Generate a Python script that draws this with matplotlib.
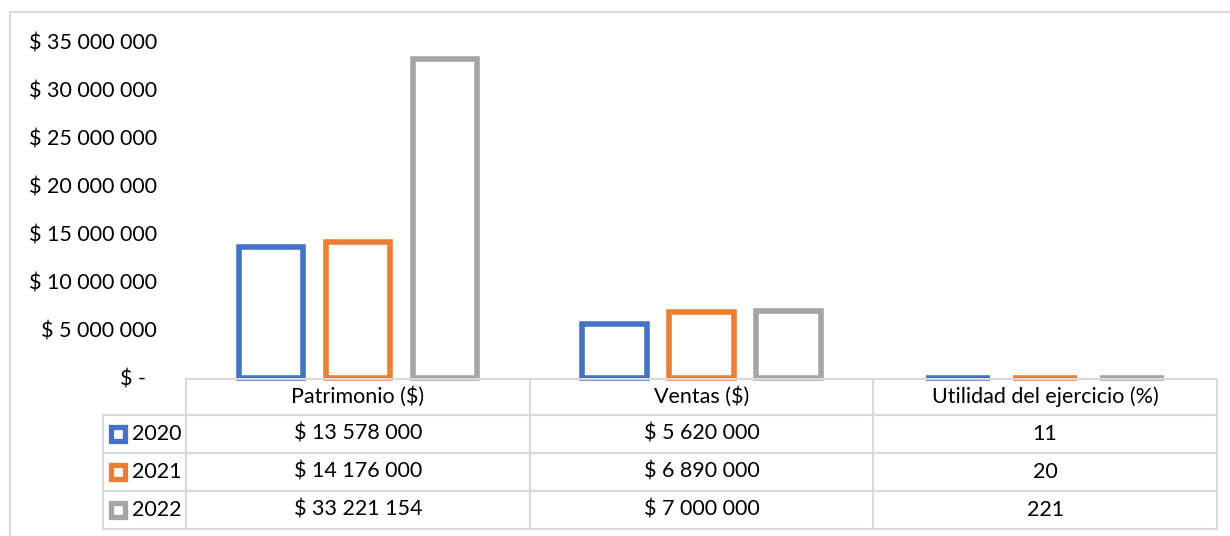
import matplotlib
matplotlib.use("Agg")
import matplotlib.pyplot as plt
import matplotlib.transforms as mtransforms
from matplotlib.lines import Line2D
from matplotlib.patches import Rectangle
import numpy as np

plt.rcParams['font.family'] = ['Lato', 'DejaVu Sans']

# data
categorias = ["Patrimonio ($)", "Ventas ($)", "Utilidad del ejercicio (%)"]
anios = ["2020", "2021", "2022"]
v2020 = [13578000, 5620000, 11]
v2021 = [14176000, 6890000, 20]
v2022 = [33221154, 7000000, 221]
tabla_2020 = ["$ 13 578 000", "$ 5 620 000", "11"]
tabla_2021 = ["$ 14 176 000", "$ 6 890 000", "20"]
tabla_2022 = ["$ 33 221 154", "$ 7 000 000", "221"]
colores = ["#4472C4", "#ED7D31", "#A5A5A5"]
grid_col = "#D9D9D9"

W, H = 1230, 536
fs = 15.5
fig = plt.figure(figsize=(W / 100, H / 100), dpi=100)

def fx(px):
    return px / W

def fy(py):
    return 1 - py / H

# plot area (pixel positions)
left, right, top, base = 186, 1217, 41.5, 378
ax = fig.add_axes([fx(left), fy(base), fx(right - left), (base - top) / H])

x = np.arange(len(categorias))
series = [v2020, v2021, v2022]
off = 0.253
bw = 0.1875
for i, (vals, c) in enumerate(zip(series, colores)):
    ax.bar(x + (i - 1) * off, vals, width=bw, facecolor="white", edgecolor=c,
           linewidth=4.0, joinstyle="miter", clip_on=False, zorder=3)

ax.set_xlim(-0.5, 2.5)
ax.set_ylim(0, 35000000)
ticks = np.arange(0, 35000001, 5000000)
ax.set_yticks(ticks)

def fmt(v):
    if v == 0:
        return "$ -  "
    return "$ " + f"{v:,.0f}".replace(",", " ")

ax.set_yticklabels([fmt(t) for t in ticks], fontsize=fs)
ax.tick_params(axis="y", length=0, pad=21)
ax.set_xticks([])
for s in ax.spines.values():
    s.set_visible(False)

# data table under the chart
tr = mtransforms.blended_transform_factory(ax.transData, fig.transFigure)
rows = [379, 415, 453, 491, 529]
lw = 1.5

fig.add_artist(Line2D([fx(186), fx(1217)], [fy(379), fy(379)], color=grid_col, lw=lw))
for r in rows[1:]:
    fig.add_artist(Line2D([fx(103), fx(1217)], [fy(r), fy(r)], color=grid_col, lw=lw))
fig.add_artist(Line2D([fx(103), fx(103)], [fy(415), fy(529)], color=grid_col, lw=lw))
for b in [-0.5, 0.5, 1.5, 2.5]:
    fig.add_artist(Line2D([b, b], [fy(379), fy(529)], color=grid_col, lw=lw, transform=tr))

for j, cat in enumerate(categorias):
    fig.text(j, fy((rows[0] + rows[1]) / 2), cat, transform=tr, ha="center",
             va="center", fontsize=fs)

tablas = [tabla_2020, tabla_2021, tabla_2022]
for i, (fila, anio, c) in enumerate(zip(tablas, anios, colores)):
    yc = fy((rows[i + 1] + rows[i + 2]) / 2)
    for j, val in enumerate(fila):
        fig.text(j, yc, val, transform=tr, ha="center", va="center", fontsize=fs)
    fig.add_artist(Rectangle((fx(111), yc - 7 / H), 14 / W, 14 / H,
                             facecolor="white", edgecolor=c, lw=3.8,
                             joinstyle="miter"))
    fig.text(fx(132), yc, anio, ha="left", va="center", fontsize=fs)

# outer chart border
fig.add_artist(Rectangle((fx(10), fy(560)), fx(1240), (560 - 12) / H,
                         facecolor="none", edgecolor=grid_col, lw=1.5))

fig.savefig("out.png", dpi=100)
